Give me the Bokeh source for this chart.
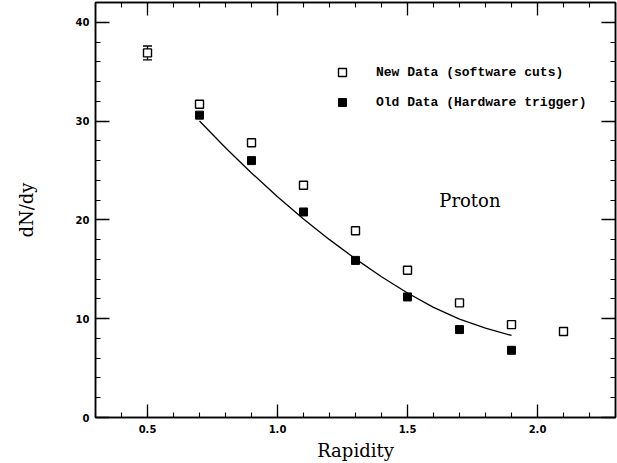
from bokeh.plotting import figure
from bokeh.models import (Range1d, LinearAxis, SingleIntervalTicker, Legend, LegendItem,
                          Label, Whisker, ColumnDataSource, CustomJSTickFormatter, TeeHead,
                          PrintfTickFormatter)
from bokeh.embed import file_html
from bokeh.resources import INLINE

# ---- data ----
rap_new = [0.5, 0.7, 0.9, 1.1, 1.3, 1.5, 1.7, 1.9, 2.1]
dndy_new = [36.9, 31.7, 27.8, 23.5, 18.9, 14.9, 11.6, 9.4, 8.7]

rap_old = [0.7, 0.9, 1.1, 1.3, 1.5, 1.7, 1.9]
dndy_old = [30.6, 26.0, 20.8, 15.9, 12.2, 8.9, 6.8]

rap_err = [0.5]
dndy_err = [36.9]
err_size = [0.7]

rap_fit = [0.7, 0.8, 0.9, 1.0, 1.1, 1.2, 1.3, 1.4, 1.5, 1.6, 1.7, 1.8, 1.9]
dndy_fit = [30.0, 27.3, 24.75, 22.35, 20.1, 18.0, 16.05, 14.25, 12.6, 11.15, 9.95, 9.05, 8.3]

legend_labels = ["New Data (software cuts)", "Old Data (Hardware trigger)"]
panel_label = "Proton"
x_title = "Rapidity"
y_title = "dN/dy"

# ---- figure ----
p = figure(width=617, height=463, x_range=Range1d(0.3, 2.3), y_range=Range1d(0, 42),
           output_backend="svg", toolbar_location=None,
           min_border_left=95, min_border_right=2, min_border_top=2, min_border_bottom=45,
           x_axis_label=x_title, y_axis_label=y_title)
p.xgrid.visible = False
p.ygrid.visible = False
p.background_fill_color = "white"
p.border_fill_color = "white"
p.outline_line_color = "black"
p.outline_line_width = 1.5

xt = SingleIntervalTicker(interval=0.5, num_minor_ticks=5)
yt = SingleIntervalTicker(interval=10, num_minor_ticks=5)


def style_axis(ax, ticker, major_len):
    ax.ticker = ticker
    ax.axis_line_color = "black"
    ax.axis_line_width = 1.5
    ax.major_tick_in = major_len
    ax.major_tick_out = 0
    ax.minor_tick_in = 5
    ax.minor_tick_out = 0
    ax.major_tick_line_color = "black"
    ax.minor_tick_line_color = "black"
    ax.major_tick_line_width = 1.3
    ax.minor_tick_line_width = 1.1


xa = p.xaxis[0]
style_axis(xa, xt, 13)
xa.formatter = PrintfTickFormatter(format="%.1f")
xa.major_label_text_font = "DejaVu Sans"
xa.major_label_text_font_style = "bold"
xa.major_label_text_font_size = "10px"
xa.major_label_text_color = "black"
xa.major_label_standoff = 7
xa.axis_label_text_font = "DejaVu Serif"
xa.axis_label_text_font_size = "18px"
xa.axis_label_text_font_style = "normal"
xa.axis_label_text_color = "black"
xa.axis_label_standoff = 4

ya = p.yaxis[0]
style_axis(ya, yt, 14)
ya.major_label_text_font = "DejaVu Sans"
ya.major_label_text_font_style = "bold"
ya.major_label_text_font_size = "10px"
ya.major_label_text_color = "black"
ya.major_label_standoff = 6
ya.axis_label_text_font = "DejaVu Serif"
ya.axis_label_text_font_size = "18px"
ya.axis_label_text_font_style = "normal"
ya.axis_label_text_color = "black"
ya.axis_label_standoff = 36

blank = CustomJSTickFormatter(code="return ''")
top = LinearAxis()
style_axis(top, SingleIntervalTicker(interval=0.5, num_minor_ticks=5), 13)
top.formatter = blank
top.major_label_text_font_size = "0px"
top.major_label_standoff = 0
p.add_layout(top, "above")

right = LinearAxis()
style_axis(right, SingleIntervalTicker(interval=10, num_minor_ticks=5), 14)
right.formatter = blank
right.major_label_text_font_size = "0px"
right.major_label_standoff = 0
p.add_layout(right, "right")

# ---- glyphs ----
fit = p.line(rap_fit, dndy_fit, line_color="black", line_width=1.3)

err_src = ColumnDataSource(dict(x=rap_err,
                                upper=[y + e for y, e in zip(dndy_err, err_size)],
                                lower=[y - e for y, e in zip(dndy_err, err_size)]))
wh = Whisker(base="x", upper="upper", lower="lower", source=err_src, dimension="height",
             line_color="black", line_width=1.3,
             upper_head=TeeHead(size=9, line_color="black", line_width=1.3),
             lower_head=TeeHead(size=9, line_color="black", line_width=1.3))
p.add_layout(wh)

r_new = p.scatter(rap_new, dndy_new, marker="square", size=8, fill_color="white",
                  line_color="black", line_width=1.4)
r_old = p.scatter(rap_old, dndy_old, marker="square", size=8, fill_color="black",
                  line_color="black", line_width=1.0)

legend = Legend(items=[LegendItem(label=legend_labels[0], renderers=[r_new]),
                       LegendItem(label=legend_labels[1], renderers=[r_old])],
                location=(237, 305), orientation="vertical",
                glyph_width=20, glyph_height=20, label_height=20, label_standoff=24,
                spacing=10, padding=0, margin=0,
                border_line_color=None, background_fill_alpha=0,
                label_text_font="Liberation Mono", label_text_font_style="bold",
                label_text_font_size="13px", label_text_color="black")
p.add_layout(legend)

p.add_layout(Label(x=1.74, y=21.95, text=panel_label, text_align="center",
                   text_baseline="middle", text_font="DejaVu Serif",
                   text_font_size="18px", text_color="black"))

open("out.html", "w").write(file_html(p, INLINE))
